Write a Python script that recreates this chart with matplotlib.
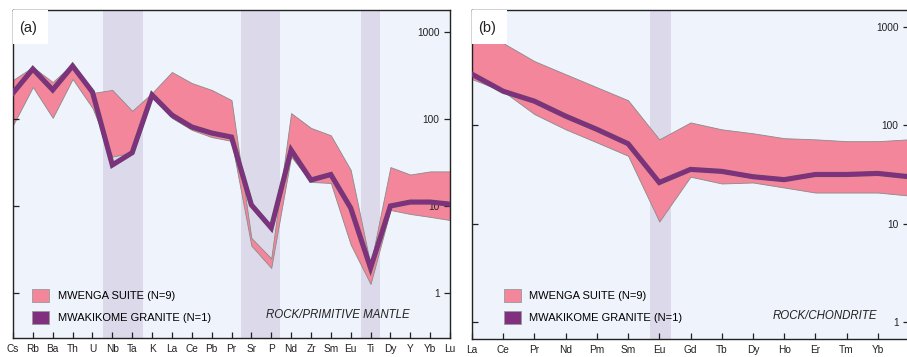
import numpy as np
import matplotlib
matplotlib.use("Agg")
import matplotlib.pyplot as plt
from matplotlib.patches import Patch, Rectangle
import matplotlib.patheffects as pe
from matplotlib.ticker import NullLocator

plt.rcParams["font.family"] = ["Liberation Sans Narrow", "Liberation Sans", "DejaVu Sans"]

# (a) multi-element, normalised to primitive mantle
pm_elements = ["Cs", "Rb", "Ba", "Th", "U", "Nb", "Ta", "K", "La", "Ce", "Pb", "Pr",
               "Sr", "P", "Nd", "Zr", "Sm", "Eu", "Ti", "Dy", "Y", "Yb", "Lu"]
pm_upper = [281, 396, 266, 429, 199, 216, 124, 199, 347, 259, 216, 165,
            4.3, 2.5, 117, 79, 65, 26, 2.1, 28, 23, 25, 25]
pm_lower = [85, 233, 103, 288, 134, 37, 41, 184, 103, 75, 62, 56,
            3.5, 1.94, 37, 18.9, 18.4, 3.6, 1.27, 9.0, 8.1, 7.5, 6.9]
pm_mwakikome = [199, 376, 216, 407, 204, 29.6, 41, 189, 111, 81, 69, 62,
                10.3, 5.6, 44, 19.9, 23, 9.5, 1.94, 10, 11.1, 11.1, 10.5]

# (b) REE, normalised to chondrite
ree_elements = ["La", "Ce", "Pr", "Nd", "Pm", "Sm", "Eu", "Gd", "Tb", "Dy", "Ho",
                "Er", "Tm", "Yb", "Lu"]
ree_upper = [955, 687, 450, 331, 244, 180, 72, 107, 91, 83, 74, 72, 69, 69, 72]
ree_lower = [295, 222, 130, 91, 67, 49, 10.5, 30, 25.6, 26.2, 23.3, 20.7, 20.7, 20.7, 19.3]
ree_mwakikome = [331, 222, 176, 124, 91, 65, 26.2, 35.6, 34, 30, 28, 31.6, 31.6, 32.4, 30]

# shaded element bands (start, end) in category units
pm_bands = [(4.55, 6.55), (11.5, 13.45), (17.5, 18.5)]
ree_bands = [(5.7, 6.38)]

legend_labels = ["MWENGA SUITE (N=9)", "MWAKIKOME GRANITE (N=1)"]
ytick_vals = [1, 10, 100, 1000]

PINK = "#F3869B"
PURPLE = "#80307F"
BG = "#EFF3FB"
BAND = "#DCDAEA"

W, H = 907, 357
fig = plt.figure(figsize=(W / 100, H / 100), dpi=100)


def px_axes(x0, x1, y0, y1):
    return fig.add_axes([x0 / W, 1 - y1 / H, (x1 - x0) / W, (y1 - y0) / H])


def draw_panel(ax, labels, upper, lower, line, bands, ylim, tag, norm_text,
               leg_xy, text_x):
    x = np.arange(len(labels))
    ax.set_facecolor(BG)
    ax.set_axisbelow(False)
    for b0, b1 in bands:
        ax.axvspan(b0, b1, color=BAND, lw=0, zorder=0.5)
    ax.fill_between(x, lower, upper, facecolor=PINK, edgecolor="#8a8a8a",
                    lw=0.6, zorder=2)
    ax.plot(x, line, color=PURPLE, lw=2.8, zorder=3, solid_joinstyle="miter",
            path_effects=[pe.withStroke(linewidth=3.7, foreground="#5d4a66")])
    ax.set_yscale("log")
    ax.set_ylim(*ylim)
    ax.set_xlim(0, len(labels) - 1)
    ax.set_xticks(x)
    ax.set_xticklabels(labels)
    ax.set_yticks(ytick_vals)
    ax.set_yticklabels([str(v) for v in ytick_vals])
    ax.yaxis.set_minor_locator(NullLocator())
    ax.tick_params(axis="x", direction="in", length=4.5, width=0.9, pad=4,
                   labelsize=7.3, colors="#222222")
    ax.tick_params(axis="y", direction="in", length=4.5, width=0.9, left=True,
                   right=True, labelleft=False, labelright=True, pad=-7.5,
                   labelsize=7.3, colors="#222222")
    plt.setp(ax.get_yticklabels(), ha="right")
    for s in ax.spines.values():
        s.set_linewidth(1.0)
        s.set_color("#222222")

    ax.add_patch(Rectangle((0, 1 - 0.104), 0.08, 0.104, transform=ax.transAxes,
                           facecolor="white", edgecolor="none", zorder=4))
    ax.text(0.034, 0.945, tag, transform=ax.transAxes, fontsize=10.5,
            ha="center", va="center", zorder=5, color="#222222")
    ax.text(text_x, 0.07, norm_text, transform=ax.transAxes, fontsize=8.3,
            style="italic", ha="right", va="center", color="#222222", zorder=5)

    handles = [Patch(facecolor=PINK, edgecolor="#999999", lw=0.6),
               Patch(facecolor=PURPLE, edgecolor="#999999", lw=0.6)]
    ax.legend(handles, legend_labels, loc="lower left", bbox_to_anchor=leg_xy,
              frameon=False, fontsize=8, handlelength=1.5, handleheight=1.45,
              labelspacing=0.8, handletextpad=0.8, borderpad=0,
              borderaxespad=0)


ax_a = px_axes(13, 450, 10, 338)
draw_panel(ax_a, pm_elements, pm_upper, pm_lower, pm_mwakikome, pm_bands,
           (0.304, 1790), "(a)", "ROCK/PRIMITIVE MANTLE", (0.0435, 0.043), 0.908)

ax_b = px_axes(472, 909, 10, 339)
draw_panel(ax_b, ree_elements, ree_upper, ree_lower, ree_mwakikome, ree_bands,
           (0.67, 1490), "(b)", "ROCK/CHONDRITE", (0.073, 0.046), 0.927)
ax_b.get_xticklabels()[-1].set_visible(False)

fig.savefig("out.png", dpi=100, facecolor="white")
